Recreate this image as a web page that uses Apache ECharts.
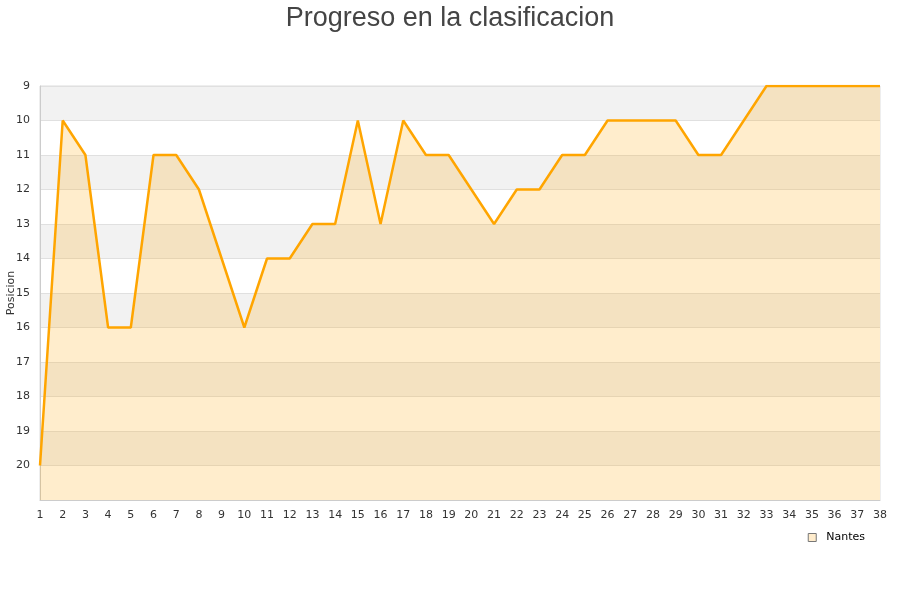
<!DOCTYPE html>
<html>
<head>
<meta charset="utf-8">
<script src="https://cdn.jsdelivr.net/npm/echarts@6/dist/echarts.min.js"></script>
<style>html,body{margin:0;padding:0;background:#fff}#c{width:900px;height:600px}</style>
</head>
<body>
<div id="c"></div>
<script>
var jornadas = ['1','2','3','4','5','6','7','8','9','10','11','12','13','14','15','16','17','18','19','20','21','22','23','24','25','26','27','28','29','30','31','32','33','34','35','36','37','38'];
var nantes = [20,10,11,16,16,11,11,12,14,16,14,14,13,13,10,13,10,11,11,12,13,12,12,11,11,10,10,10,10,11,11,10,9,9,9,9,9,9];
var seriesName = 'Nantes';
var chartTitle = 'Progreso en la clasificacion';

var chart = echarts.init(document.getElementById('c'));
chart.setOption({
  animation: false,
  backgroundColor: '#fff',
  title: {
    text: chartTitle,
    left: 'center',
    top: 0,
    textStyle: {fontFamily: 'Liberation Sans, Arial, sans-serif', fontSize: 27, fontWeight: 'normal', color: '#444'}
  },
  grid: {left: 40, right: 20, top: 86, bottom: 100, show: true, borderColor: '#ddd', borderWidth: 1, containLabel: false, outerBoundsMode: 'none'},
  legend: {
    data: [seriesName],
    right: 29,
    top: 528,
    padding: [4, 6],
    icon: 'rect',
    itemWidth: 8,
    itemHeight: 8,
    itemGap: 8,
    itemStyle: {color: '#ffeccc', borderColor: '#777', borderWidth: 1},
    textStyle: {fontFamily: 'DejaVu Sans, sans-serif', fontSize: 11, color: '#000', padding: [0, 0, 0, 5]}
  },
  xAxis: {
    type: 'category',
    data: jornadas,
    boundaryGap: false,
    axisLine: {lineStyle: {color: '#ccc'}},
    axisTick: {show: false},
    axisLabel: {interval: 0, fontFamily: 'DejaVu Sans, sans-serif', fontSize: 11, color: '#333', margin: 10},
    splitLine: {show: false}
  },
  yAxis: {
    type: 'value',
    inverse: true,
    min: 9,
    max: 21,
    interval: 1,
    name: 'Posicion',
    nameLocation: 'middle',
    nameGap: 23,
    nameMoveOverlap: false,
    nameTextStyle: {fontFamily: 'DejaVu Sans, sans-serif', fontSize: 11, color: '#333'},
    axisLine: {show: true, lineStyle: {color: '#ccc'}},
    axisTick: {show: false},
    axisLabel: {
      fontFamily: 'DejaVu Sans, sans-serif', fontSize: 11, color: '#333', margin: 10,
      formatter: function (v) { return v === 21 ? '' : String(v); }
    },
    splitLine: {show: true, lineStyle: {color: '#e0e0e0'}},
    splitArea: {show: true, areaStyle: {color: ['#f2f2f2', '#ffffff']}}
  },
  series: [{
    name: seriesName,
    type: 'line',
    data: nantes,
    showSymbol: false,
    symbol: 'none',
    lineStyle: {color: '#ffa500', width: 2.5},
    itemStyle: {color: '#ffa500'},
    areaStyle: {color: '#ffa500', opacity: 0.2, origin: 'end'}
  }]
});
</script>
</body>
</html>
